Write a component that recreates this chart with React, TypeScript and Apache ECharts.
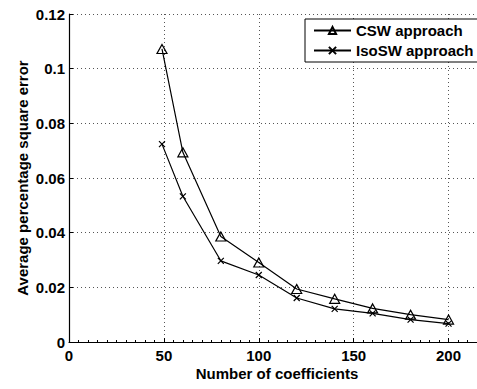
import React, { useEffect, useRef } from "react";
import * as echarts from "echarts";

const coefficients = [49, 60, 80, 100, 120, 140, 160, 180, 200];
const cswValues = [0.1072, 0.0694, 0.0386, 0.0291, 0.0194, 0.0158, 0.0123, 0.0100, 0.0082];
const isoValues = [0.0724, 0.0533, 0.0297, 0.0245, 0.0161, 0.0121, 0.0105, 0.0082, 0.0067];
const seriesNames = ["CSW approach", "IsoSW approach"];

const FONT = "Arial, 'Liberation Sans', Helvetica, sans-serif";

export default function App() {
  const ref = useRef<HTMLDivElement>(null);
  useEffect(() => {
    if (!ref.current) return;
    const chart = echarts.init(ref.current, undefined, { renderer: "svg" });
    const crossPath = "path://M0,0L10,10M10,0L0,10";
    const mk = (vals: number[]) => coefficients.map((c, i) => [c, vals[i]]);
    chart.setOption({
      animation: false,
      backgroundColor: "#fff",
      grid: { left: 69, right: 0, top: 14, bottom: 47 },
      legend: {
        left: 305,
        top: 19,
        orient: "vertical",
        backgroundColor: "#fff",
        borderColor: "#000",
        borderWidth: 1,
        borderRadius: 0,
        padding: [4, 8, 4, 8],
        itemGap: 5,
        itemWidth: 37,
        itemHeight: 9,
        textStyle: { fontFamily: FONT, fontWeight: "bold", fontSize: 15, color: "#000" },
        data: seriesNames,
      },
      xAxis: {
        type: "value",
        min: 0,
        max: 215,
        interval: 50,
        axisLine: { show: true, lineStyle: { color: "#000", width: 1.2 } },
        axisTick: { show: true, inside: true, length: 4, lineStyle: { color: "#000" } },
        minorTick: { show: true, splitNumber: 10, length: 2, lineStyle: { color: "#000" } },
        axisLabel: {
          fontFamily: FONT,
          fontWeight: "bold",
          fontSize: 15,
          color: "#000",
          margin: 6,
          showMaxLabel: false,
        },
        splitLine: { show: true, lineStyle: { color: "#555", type: [1, 3], width: 1 } },
        name: "Number of coefficients",
        nameLocation: "middle",
        nameGap: 24,
        nameMoveOverlap: false,
        nameTextStyle: { fontFamily: FONT, fontWeight: "bold", fontSize: 15, color: "#000", padding: [0, 0, 0, 8] },
      },
      yAxis: {
        type: "value",
        min: 0,
        max: 0.12,
        interval: 0.02,
        axisLine: { show: true, lineStyle: { color: "#000", width: 1.2 } },
        axisTick: { show: true, inside: true, length: 4, lineStyle: { color: "#000" } },
        axisLabel: {
          fontFamily: FONT,
          fontWeight: "bold",
          fontSize: 15,
          color: "#000",
          margin: 4,
          formatter: (v: number) => String(parseFloat(v.toFixed(2))),
        },
        splitLine: { show: true, lineStyle: { color: "#555", type: [1, 3], width: 1 } },
        name: "Average percentage square error",
        nameLocation: "middle",
        nameGap: 39,
        nameMoveOverlap: false,
        nameTextStyle: { fontFamily: FONT, fontWeight: "bold", fontSize: 15, color: "#000" },
      },
      series: [
        {
          name: seriesNames[0],
          type: "line",
          data: mk(cswValues),
          symbol: "triangle",
          symbolSize: [10, 9],
          showAllSymbol: true,
          lineStyle: { color: "#000", width: 1.2 },
          itemStyle: { color: "transparent", borderColor: "#000", borderWidth: 1.2 },
        },
        {
          name: seriesNames[1],
          type: "line",
          data: mk(isoValues),
          symbol: crossPath,
          symbolSize: 6,
          showAllSymbol: true,
          lineStyle: { color: "#000", width: 1.2 },
          itemStyle: { color: "transparent", borderColor: "#000", borderWidth: 1.2 },
        },
      ],
    });
    return () => chart.dispose();
  }, []);
  return (
    <div
      ref={ref}
      style={{ position: "fixed", left: 0, top: 0, width: 477, height: 389 }}
    />
  );
}
